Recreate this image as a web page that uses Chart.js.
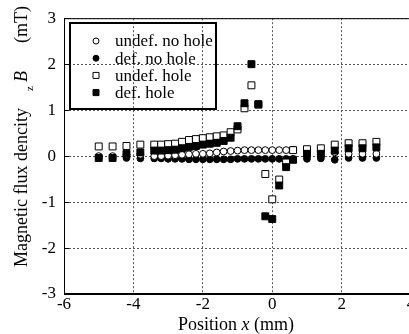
<!DOCTYPE html>
<html>
<head>
<meta charset="utf-8">
<script src="https://cdn.jsdelivr.net/npm/chart.js@4"></script>
<style>
  html, body { margin: 0; padding: 0; background: #fff; overflow: hidden; width: 409px; height: 334px; }
  #wrap { position: relative; width: 417px; height: 334px; }
</style>
</head>
<body>
<div id="wrap"><canvas id="chart"></canvas></div>
<script>
// probe positions (mm)
const positions = [-5.0, -4.6, -4.2, -3.8,
  -3.4, -3.2, -3.0, -2.8, -2.6, -2.4, -2.2, -2.0, -1.8, -1.6, -1.4, -1.2, -1.0,
  -0.8, -0.6, -0.4, -0.2, 0.0, 0.2, 0.4, 0.6,
  1.0, 1.4, 1.8, 2.2, 2.6, 3.0];

// Bz (mT)
const undefNoHole = [0.00, 0.00, 0.03, 0.03,
  0.00, 0.00, 0.01, 0.02, 0.03, 0.04, 0.05, 0.05, 0.06, 0.08, 0.10, 0.11, 0.12,
  0.13, 0.13, 0.13, 0.13, 0.13, 0.13, 0.13, 0.14,
  0.13, 0.12, 0.08, 0.05, 0.05, 0.05];
const defNoHole = [-0.04, -0.04, -0.04, -0.05,
  -0.05, -0.05, -0.06, -0.06, -0.06, -0.07, -0.07, -0.07, -0.07, -0.07, -0.07, -0.07, -0.06,
  -0.06, -0.06, -0.06, -0.06, -0.06, -0.06, -0.06, -0.06,
  -0.06, -0.05, -0.08, -0.04, -0.04, -0.04];
const undefHole = [0.21, 0.21, 0.22, 0.25,
  0.25, 0.25, 0.26, 0.27, 0.31, 0.35, 0.37, 0.39, 0.41, 0.43, 0.45, 0.52, 0.58,
  1.04, 1.54, 1.12, -0.39, -0.94, -0.51, -0.14, 0.13,
  0.15, 0.17, 0.25, 0.28, 0.28, 0.31];
const defHole = [-0.04, -0.04, 0.05, 0.08,
  0.12, 0.12, 0.13, 0.14, 0.17, 0.20, 0.22, 0.25, 0.27, 0.29, 0.33, 0.40, 0.65,
  1.15, 2.00, 1.13, -1.31, -1.37, -0.64, -0.24, -0.08,
  0.05, 0.05, 0.12, 0.17, 0.17, 0.19];

const seriesLabels = ['undef. no hole', 'def. no hole', 'undef. hole', 'def. hole'];
const xTicks = [-6, -4, -2, 0, 2, 4];
const yTicks = [-3, -2, -1, 0, 1, 2, 3];

const SERIF = '"Liberation Serif", "Times New Roman", serif';

function toPoints(ys) {
  return positions.map((x, i) => ({ x, y: ys[i] }));
}

function makeSet(label, ys, style, filled, order) {
  const isRect = style === 'rect';
  return {
    label,
    data: toPoints(ys),
    pointStyle: style,
    pointRadius: isRect ? 4.9 : 3.4,
    pointHoverRadius: isRect ? 4.9 : 3.4,
    borderWidth: 1,
    borderColor: '#000',
    backgroundColor: filled ? '#000' : '#fff',
    showLine: false,
    order
  };
}

const datasets = [
  makeSet(seriesLabels[0], undefNoHole, 'circle', false, 2),
  makeSet(seriesLabels[1], defNoHole, 'circle', true, 3),
  makeSet(seriesLabels[2], undefHole, 'rect', false, 1),
  makeSet(seriesLabels[3], defHole, 'rect', true, 0)
];

// titles, frame, inward ticks and the boxed legend
const decorations = {
  id: 'decorations',
  afterDraw(chart) {
    const ctx = chart.ctx;
    const a = chart.chartArea;
    const ys = chart.scales.y;
    ctx.save();

    // frame
    ctx.strokeStyle = '#000';
    ctx.lineWidth = 1;
    ctx.setLineDash([]);
    ctx.strokeRect(a.left + 0.5, a.top + 0.5, a.right - a.left - 1, a.bottom - a.top - 1);

    // inward ticks on the left axis
    yTicks.forEach(v => {
      const py = Math.round(ys.getPixelForValue(v)) + 0.5;
      ctx.beginPath();
      ctx.moveTo(a.left, py);
      ctx.lineTo(a.left + 5, py);
      ctx.stroke();
    });

    ctx.fillStyle = '#000';

    // x title
    ctx.textBaseline = 'alphabetic';
    ctx.textAlign = 'left';
    const xParts = [
      { t: 'Position ', f: '18px ' + SERIF },
      { t: 'x', f: 'italic 18px ' + SERIF },
      { t: ' (mm)', f: '18px ' + SERIF }
    ];
    let tw = 0;
    xParts.forEach(p => { ctx.font = p.f; p.w = ctx.measureText(p.t).width; tw += p.w; });
    let px = 236 - tw / 2;
    xParts.forEach(p => { ctx.font = p.f; ctx.fillText(p.t, px, 330); px += p.w; });

    // y title, rotated
    ctx.save();
    ctx.translate(27, 267);
    ctx.rotate(-Math.PI / 2);
    ctx.font = '18px ' + SERIF;
    ctx.fillText('Magnetic flux dencity', 0, 0);
    ctx.font = '11px ' + SERIF;
    ctx.fillText('z', 176, 6);
    ctx.font = 'italic 18px ' + SERIF;
    ctx.fillText('B', 185, 0);
    ctx.font = '18px ' + SERIF;
    ctx.fillText('(mT)', 224, 0);
    ctx.restore();

    // legend box
    const box = { x: 70, y: 23, w: 146, h: 86 };
    ctx.lineWidth = 2;
    ctx.strokeRect(box.x, box.y, box.w, box.h);
    ctx.font = '17px ' + SERIF;
    ctx.textBaseline = 'middle';
    chart.data.datasets.forEach((ds, i) => {
      const cy = box.y + 18 + i * 17.2;
      ctx.lineWidth = 1;
      ctx.beginPath();
      if (ds.pointStyle === 'rect') {
        ctx.rect(96 - 3, cy - 3, 6, 6);
      } else {
        ctx.arc(96, cy, 3, 0, Math.PI * 2);
      }
      ctx.fillStyle = ds.backgroundColor;
      ctx.strokeStyle = '#000';
      ctx.fill();
      ctx.stroke();
      ctx.fillStyle = '#000';
      ctx.fillText(ds.label, 115, cy + 1);
    });
    ctx.restore();
  }
};

const gridStyle = { color: '#555', lineWidth: 1, drawTicks: false };

new Chart(document.getElementById('chart'), {
  type: 'scatter',
  data: { datasets },
  options: {
    responsive: true,
    maintainAspectRatio: false,
    animation: false,
    events: [],
    layout: { padding: { top: 17, right: 0, bottom: 0, left: 0 } },
    plugins: {
      legend: { display: false },
      tooltip: { enabled: false }
    },
    scales: {
      x: {
        type: 'linear',
        min: -6,
        max: 4,
        afterBuildTicks: s => { s.ticks = xTicks.map(v => ({ value: v })); },
        afterFit: s => { s.height = 40; },
        grid: gridStyle,
        border: { display: true, color: '#000', width: 1, dash: [2, 2] },
        ticks: {
          color: '#000',
          padding: 0,
          maxRotation: 0,
          autoSkip: false,
          font: { family: SERIF, size: 17 }
        }
      },
      y: {
        type: 'linear',
        min: -3,
        max: 3,
        afterBuildTicks: s => { s.ticks = yTicks.map(v => ({ value: v })); },
        afterFit: s => { s.width = 64; },
        grid: gridStyle,
        border: { display: true, color: '#000', width: 1, dash: [2, 2] },
        ticks: {
          color: '#000',
          padding: 8,
          autoSkip: false,
          font: { family: SERIF, size: 17 }
        }
      }
    }
  },
  plugins: [decorations]
});
</script>
</body>
</html>
